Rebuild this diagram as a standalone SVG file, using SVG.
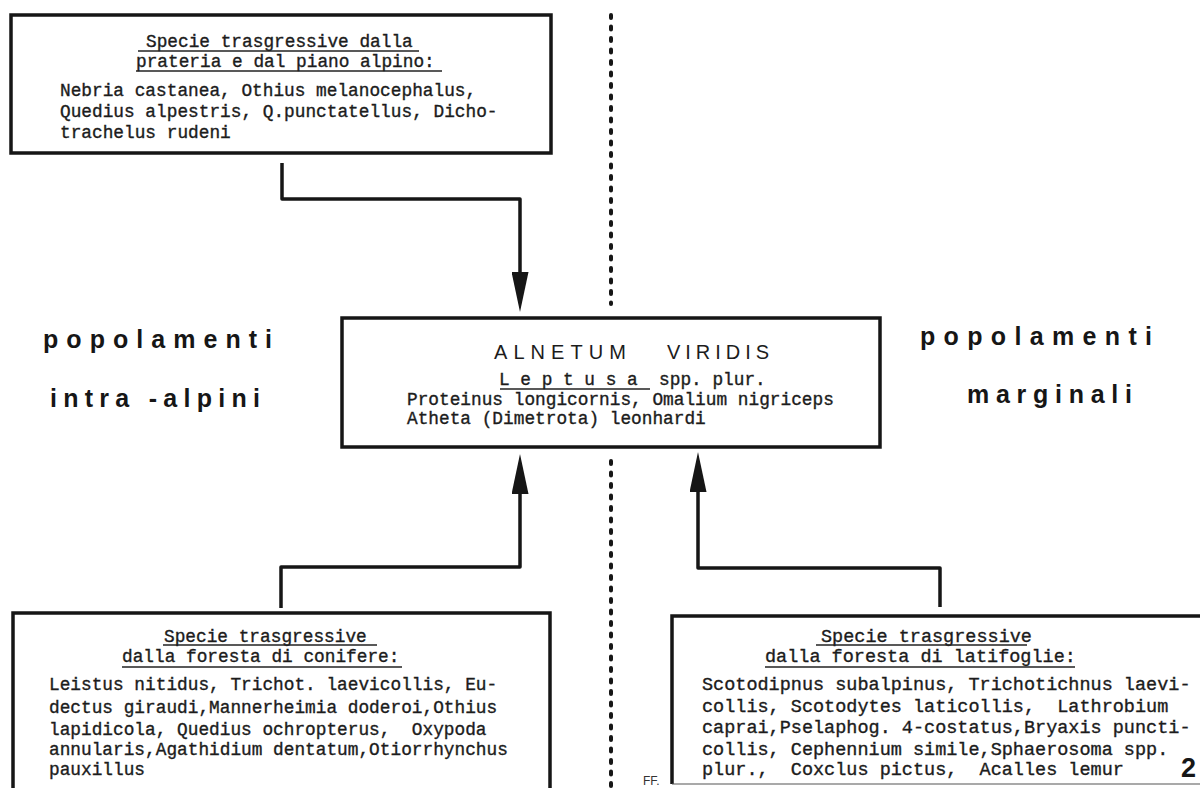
<svg xmlns="http://www.w3.org/2000/svg" width="1200" height="788" viewBox="0 0 1200 788">
<defs>
<style>
.box{fill:none;stroke:#161616;stroke-width:3.5}
.conn{fill:none;stroke:#161616;stroke-width:3.5;stroke-linejoin:round}
.dots{fill:none;stroke:#161616;stroke-width:4;stroke-dasharray:3 8.5;stroke-linecap:round}
.ul{stroke:#222;stroke-width:1.4}
.tw{font-family:"Liberation Mono","DejaVu Sans Mono",monospace;font-size:17.8px;fill:#1c1c1c;stroke:#1c1c1c;stroke-width:0.35}
.twb{font-family:"Liberation Mono","DejaVu Sans Mono",monospace;font-size:18.5px;fill:#1c1c1c;stroke:#1c1c1c;stroke-width:0.35}
.lab{font-family:"Liberation Sans",Arial,sans-serif;font-weight:bold;font-size:25px;fill:#161616}
.ttl{font-family:"Liberation Sans",Arial,sans-serif;font-size:20px;fill:#1c1c1c}
</style>
<marker id="ah" viewBox="0 0 40 17" refX="0" refY="8.5" markerWidth="40" markerHeight="17" markerUnits="userSpaceOnUse" orient="auto">
<path d="M0,0 L40,8.5 L0,17 Z" fill="#161616"/>
</marker>
</defs>
<rect width="1200" height="788" fill="#ffffff"/>

<g id="divider">
<line class="dots" x1="611" y1="15" x2="611" y2="304"/>
<line class="dots" x1="611" y1="461" x2="611" y2="790"/>
</g>

<g id="connectors">
<path class="conn" d="M282,163 L282,199 L520,199 L520,272" marker-end="url(#ah)"/>
<path class="conn" d="M281,608 L281,567 L520,567 L520,494" marker-end="url(#ah)"/>
<path class="conn" d="M940,607 L940,568 L698,568 L698,492" marker-end="url(#ah)"/>
</g>

<g id="node-top">
<rect class="box" x="11" y="15" width="540" height="138"/>
<text class="tw" x="146" y="47">Specie trasgressive dalla</text>
<text class="tw" x="136" y="67">prateria e dal piano alpino:</text>
<line class="ul" x1="138" y1="51" x2="419" y2="51"/>
<line class="ul" x1="136" y1="71" x2="442" y2="71"/>
<text class="tw" x="60" y="96">Nebria castanea, Othius melanocephalus,</text>
<text class="tw" x="60" y="117">Quedius alpestris, Q.punctatellus, Dicho-</text>
<text class="tw" x="60" y="138">trachelus rudeni</text>
</g>

<g id="node-center">
<rect class="box" x="342" y="318" width="538" height="129"/>
<text class="ttl" x="494" y="359" textLength="132" lengthAdjust="spacing">ALNETUM</text>
<text class="ttl" x="667" y="359" textLength="102" lengthAdjust="spacing">VIRIDIS</text>
<text class="tw" x="499" y="385" xml:space="preserve">L e p t u s a  spp. plur.</text>
<line class="ul" x1="500" y1="389" x2="650" y2="389"/>
<text class="tw" x="407" y="405">Proteinus longicornis, Omalium nigriceps</text>
<text class="tw" x="407" y="424">Atheta (Dimetrota) leonhardi</text>
</g>

<g id="node-bottom-left">
<rect class="box" x="13" y="613" width="537" height="200"/>
<text class="tw" x="164" y="642">Specie trasgressive</text>
<text class="tw" x="122" y="662">dalla foresta di conifere:</text>
<line class="ul" x1="163" y1="645" x2="377" y2="645"/>
<line class="ul" x1="122" y1="667" x2="402" y2="667"/>
<text class="tw" x="49" y="690">Leistus nitidus, Trichot. laevicollis, Eu-</text>
<text class="tw" x="49" y="713">dectus giraudi,Mannerheimia doderoi,Othius</text>
<text class="tw" x="49" y="735" xml:space="preserve">lapidicola, Quedius ochropterus,  Oxypoda</text>
<text class="tw" x="49" y="755">annularis,Agathidium dentatum,Otiorrhynchus</text>
<text class="tw" x="49" y="775">pauxillus</text>
</g>

<g id="node-bottom-right">
<path class="box" d="M672,784 L672,616 L1210,616"/>
<line x1="672" y1="784" x2="1210" y2="784" stroke="#555" stroke-width="1.2"/>
<text class="twb" x="821" y="642">Specie trasgressive</text>
<text class="twb" x="765" y="662">dalla foresta di latifoglie:</text>
<line class="ul" x1="816" y1="645" x2="1027" y2="645"/>
<line class="ul" x1="765" y1="667" x2="1075" y2="667"/>
<text class="twb" x="702" y="690">Scotodipnus subalpinus, Trichotichnus laevi-</text>
<text class="twb" x="702" y="712" xml:space="preserve">collis, Scotodytes laticollis,  Lathrobium</text>
<text class="twb" x="702" y="733">caprai,Pselaphog. 4-costatus,Bryaxis puncti-</text>
<text class="twb" x="702" y="755">collis, Cephennium simile,Sphaerosoma spp.</text>
<text class="twb" x="702" y="775" xml:space="preserve">plur.,  Coxclus pictus,  Acalles lemur</text>
</g>

<g id="label-left">
<text class="lab" x="43" y="348" textLength="229" lengthAdjust="spacing">popolamenti</text>
<text class="lab" x="50" y="407" textLength="210" lengthAdjust="spacing">intra -alpini</text>
</g>

<g id="label-right">
<text class="lab" x="920" y="345" textLength="232" lengthAdjust="spacing">popolamenti</text>
<text class="lab" x="967" y="403" textLength="165" lengthAdjust="spacing">marginali</text>
</g>

<text x="1181" y="777" font-family="Liberation Sans, Arial, sans-serif" font-weight="bold" font-size="27" fill="#161616">2</text>
<text x="643" y="785" font-family="Liberation Sans, Arial, sans-serif" font-size="12" fill="#333">FF.</text>
</svg>
